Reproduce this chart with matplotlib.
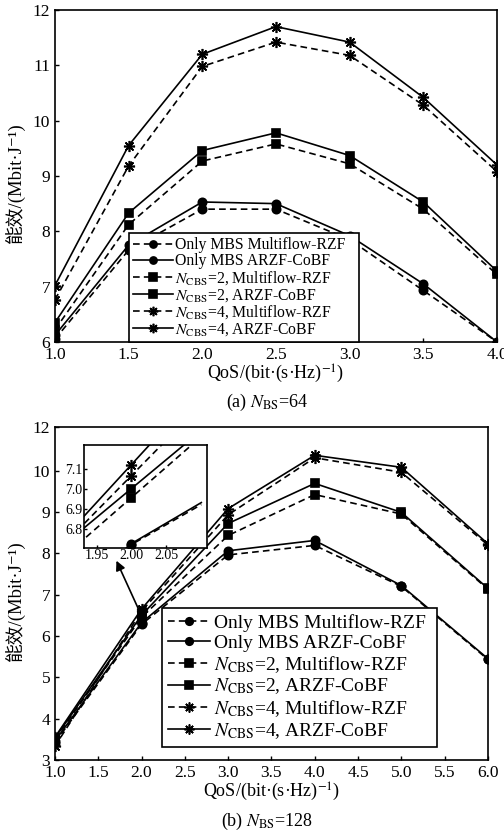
import matplotlib
matplotlib.use("Agg")
import matplotlib.pyplot as plt

plt.rcParams['font.family'] = ['Liberation Serif', 'Noto Sans CJK SC', 'DejaVu Serif']
plt.rcParams['mathtext.fontset'] = 'stix'

# (a) N_BS = 64
qos_a = [1.0, 1.5, 2.0, 2.5, 3.0, 3.5, 4.0]
mbs_rzf_a = [6.05, 7.66, 8.40, 8.40, 7.85, 6.93, 6.00]
mbs_cobf_a = [6.12, 7.75, 8.53, 8.50, 7.92, 7.05, 6.00]
c2_rzf_a = [6.22, 8.12, 9.27, 9.58, 9.22, 8.40, 7.22]
c2_cobf_a = [6.35, 8.33, 9.46, 9.78, 9.37, 8.53, 7.28]
c4_rzf_a = [6.76, 9.18, 10.98, 11.42, 11.18, 10.28, 9.08]
c4_cobf_a = [7.02, 9.55, 11.20, 11.70, 11.42, 10.42, 9.20]

# (b) N_BS = 128
qos_b = [1.0, 2.0, 3.0, 4.0, 5.0, 6.0]
mbs_rzf_b = [3.42, 6.28, 7.96, 8.19, 7.20, 5.43]
mbs_cobf_b = [3.46, 6.32, 8.06, 8.31, 7.22, 5.45]
c2_rzf_b = [3.50, 6.45, 8.43, 9.42, 8.95, 7.13]
c2_cobf_b = [3.53, 6.50, 8.72, 9.69, 8.99, 7.15]
c4_rzf_b = [3.33, 6.60, 8.93, 10.31, 9.96, 8.20]
c4_cobf_b = [3.55, 6.65, 9.08, 10.37, 10.08, 8.23]

# zoomed view around QoS = 2.0 in (b)
inset_x = [1.90, 2.00, 2.10]
inset_mbs_rzf = [6.41, 6.72, 6.92]
inset_mbs_cobf = [6.42, 6.725, 6.93]
inset_c2_rzf = [6.65, 6.955, 7.26]
inset_c2_cobf = [6.71, 7.00, 7.29]
inset_c4_rzf = [6.71, 7.065, 7.42]
inset_c4_cobf = [6.74, 7.12, 7.50]

labels = [
    'Only MBS Multiflow-RZF',
    'Only MBS ARZF-CoBF',
    r'$N_{\mathrm{CBS}}$=2, Multiflow-RZF',
    r'$N_{\mathrm{CBS}}$=2, ARZF-CoBF',
    r'$N_{\mathrm{CBS}}$=4, Multiflow-RZF',
    r'$N_{\mathrm{CBS}}$=4, ARZF-CoBF',
]
markers = ['o', 'o', 's', 's', (8, 2, 0), (8, 2, 0)]
msizes = [6, 6, 6, 6, 8, 8]
dashed = [True, False, True, False, True, False]


def draw_series(ax, x, series, markevery=None):
    for y, lab, m, ms, d in zip(series, labels, markers, msizes, dashed):
        kw = dict(color='k', lw=1.2, marker=m, ms=ms, mfc='k', mec='k', mew=1.2, label=lab,
                  markevery=markevery)
        if d:
            kw['ls'] = (0, (4, 2.5))
        ax.plot(x, y, **kw)


def style_axes(ax):
    for s in ax.spines.values():
        s.set_linewidth(1.2)
    ax.tick_params(direction='in', length=3, width=1, labelsize=12.5, top=False, right=False)


fig = plt.figure(figsize=(5.04, 8.36), dpi=100)
ax_a = fig.add_axes([0.109, 0.591, 0.877, 0.397])
ax_b = fig.add_axes([0.109, 0.091, 0.859, 0.398])

ylab = '能效/(Mbit·J⁻¹)'
xlab = r'QoS/(bit·(s·Hz)$^{-1}$)'

# panel (a)
draw_series(ax_a, qos_a, [mbs_rzf_a, mbs_cobf_a, c2_rzf_a, c2_cobf_a, c4_rzf_a, c4_cobf_a])
ax_a.set_xlim(1.0, 4.0)
ax_a.set_ylim(6, 12)
ax_a.set_xticks([1.0, 1.5, 2.0, 2.5, 3.0, 3.5, 4.0])
ax_a.set_xticklabels(['1.0', '1.5', '2.0', '2.5', '3.0', '3.5', '4.0'])
ax_a.set_yticks([6, 7, 8, 9, 10, 11, 12])
style_axes(ax_a)
ax_a.set_xlabel(xlab, fontsize=13, labelpad=0)
ax_a.set_ylabel(ylab, fontsize=13.5)
ax_a.yaxis.set_label_coords(-0.066, 0.48)
leg_a = ax_a.legend(loc='lower left', bbox_to_anchor=(0.167, 0.0, 0.521, 0.313), mode='expand',
                    borderaxespad=0, fontsize=11.3, frameon=True, fancybox=False, framealpha=1,
                    edgecolor='k', handlelength=2.6, handletextpad=0.12, labelspacing=0.0,
                    borderpad=0.25, numpoints=1, markerscale=0.85)
leg_a.get_frame().set_linewidth(1.2)
fig.text(0.53, 0.519, r'(a) $N_{\mathrm{BS}}$=64', ha='center', va='center', fontsize=13)

# panel (b)
draw_series(ax_b, qos_b, [mbs_rzf_b, mbs_cobf_b, c2_rzf_b, c2_cobf_b, c4_rzf_b, c4_cobf_b])
ax_b.set_xlim(1.0, 6.0)
ax_b.set_ylim(3, 11.05)
ax_b.set_xticks([1.0, 1.5, 2.0, 2.5, 3.0, 3.5, 4.0, 4.5, 5.0, 5.5, 6.0])
ax_b.set_xticklabels(['1.0', '1.5', '2.0', '2.5', '3.0', '3.5', '4.0', '4.5', '5.0', '5.5', '6.0'])
ax_b.set_yticks([3, 4, 5, 6, 7, 8, 9, 10, 11.05])
ax_b.set_yticklabels(['3', '4', '5', '6', '7', '8', '9', '10', '12'])
style_axes(ax_b)
ax_b.set_xlabel(xlab, fontsize=13, labelpad=0)
ax_b.set_ylabel(ylab, fontsize=13.5)
ax_b.yaxis.set_label_coords(-0.068, 0.48)
leg_b = ax_b.legend(loc='lower left', bbox_to_anchor=(0.247, 0.04, 0.635, 0.408), mode='expand',
                    borderaxespad=0, fontsize=14, frameon=True, fancybox=False, framealpha=1,
                    edgecolor='k', handlelength=2.2, handletextpad=0.2, labelspacing=0.1,
                    borderpad=0.3, numpoints=1, markerscale=0.9)
leg_b.get_frame().set_linewidth(1.2)
fig.text(0.53, 0.017, r'(b) $N_{\mathrm{BS}}$=128', ha='center', va='center', fontsize=13)

ax_b.annotate('', xy=(1.71, 7.82), xytext=(1.98, 6.58),
              arrowprops=dict(arrowstyle='-|>', color='k', lw=1.2, mutation_scale=14,
                              shrinkA=0, shrinkB=0))

ax_in = ax_b.inset_axes([0.067, 0.637, 0.284, 0.309])
draw_series(ax_in, inset_x, [inset_mbs_rzf, inset_mbs_cobf, inset_c2_rzf, inset_c2_cobf,
                             inset_c4_rzf, inset_c4_cobf], markevery=[1])
ax_in.set_xlim(1.932, 2.108)
ax_in.set_ylim(6.703, 7.217)
ax_in.set_xticks([1.95, 2.00, 2.05])
ax_in.set_xticklabels(['1.95', '2.00', '2.05'])
ax_in.set_yticks([6.8, 6.9, 7.0, 7.1])
ax_in.set_yticklabels(['6.8', '6.9', '7.0', '7.1'])
ax_in.set_facecolor('white')
for s in ax_in.spines.values():
    s.set_linewidth(1.2)
ax_in.tick_params(direction='in', length=2, width=1, labelsize=10, pad=1, top=False, right=False)

fig.savefig('out.png', dpi=100)
